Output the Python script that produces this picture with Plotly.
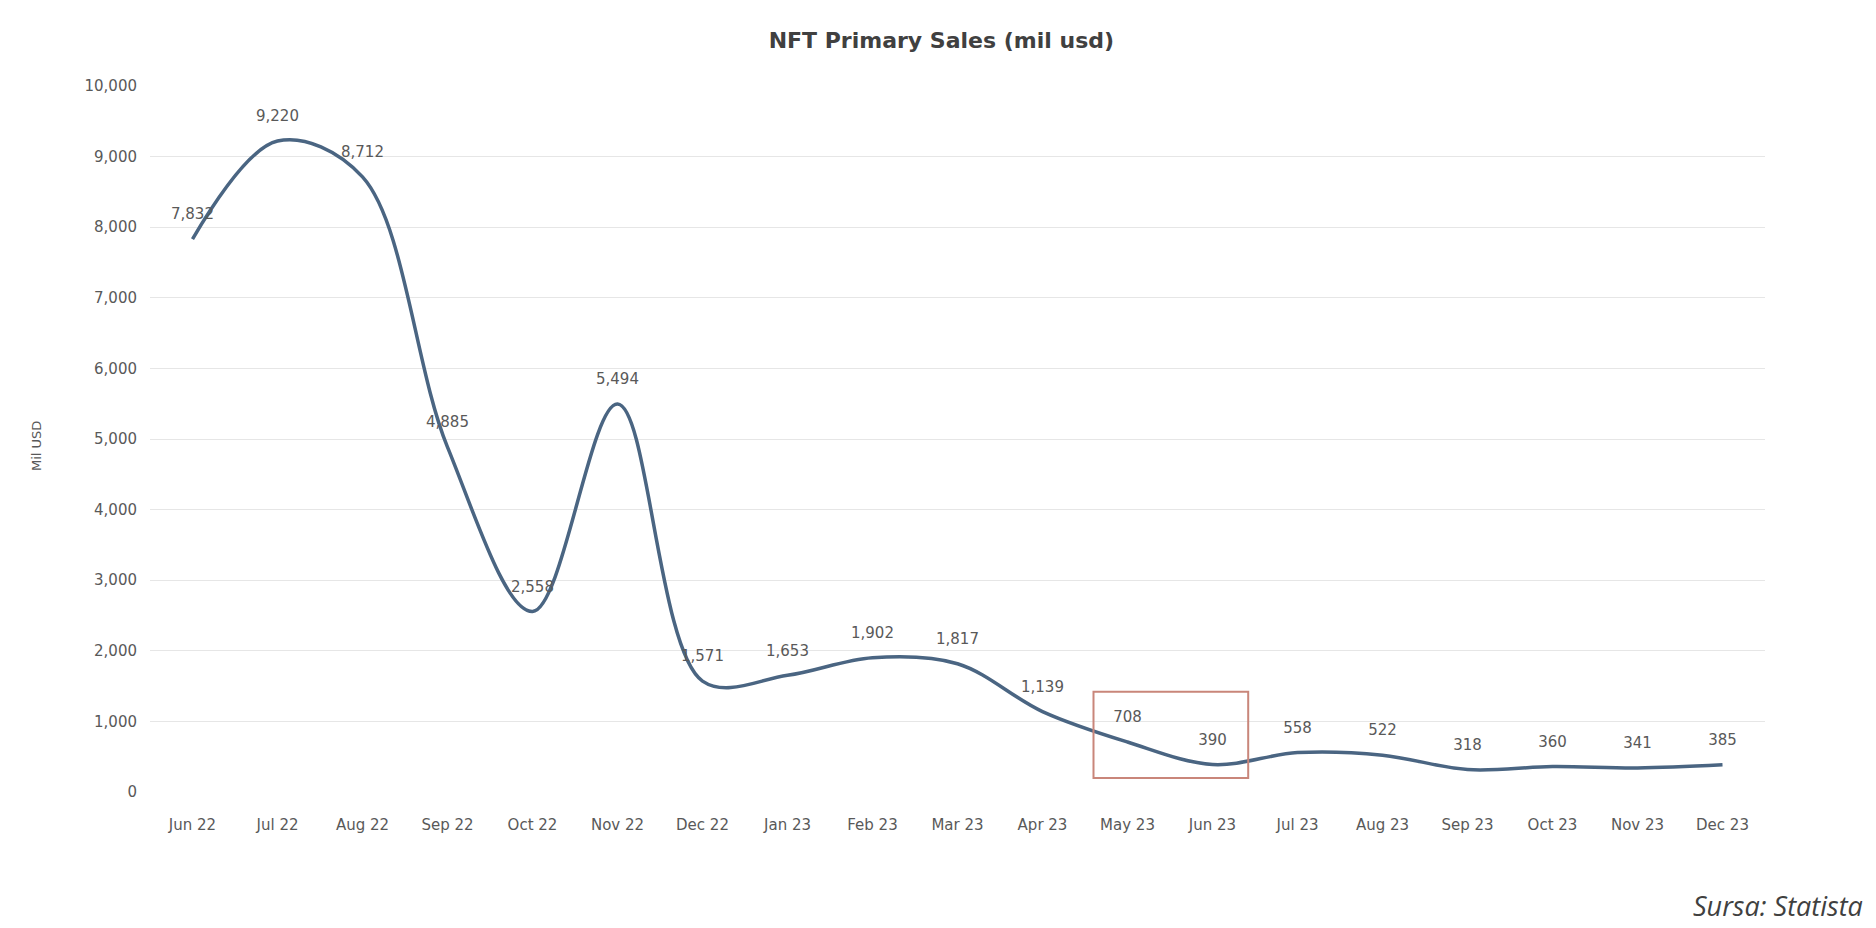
import plotly.graph_objects as go

months = ["Jun 22", "Jul 22", "Aug 22", "Sep 22", "Oct 22", "Nov 22", "Dec 22",
          "Jan 23", "Feb 23", "Mar 23", "Apr 23", "May 23", "Jun 23", "Jul 23",
          "Aug 23", "Sep 23", "Oct 23", "Nov 23", "Dec 23"]
sales = [7832, 9220, 8712, 4885, 2558, 5494, 1571, 1653, 1902, 1817, 1139,
         708, 390, 558, 522, 318, 360, 341, 385]
y_ticks = list(range(0, 10001, 1000))

FONT = "DejaVu Sans"

fig = go.Figure()
fig.add_trace(go.Scatter(
    x=months, y=sales, mode="lines+markers+text",
    line=dict(color="#4a6582", width=3.5, shape="spline", smoothing=1.0),
    marker=dict(size=24, opacity=0),
    text=[f"{v:,}" for v in sales], textposition="top center",
    textfont=dict(family=FONT, size=15, color="#595959"),
    cliponaxis=False, showlegend=False, hoverinfo="x+y",
))

# highlight box around May 23 - Jun 23
fig.add_shape(type="rect", xref="x", yref="y", x0=10.6, x1=12.42, y0=200, y1=1420,
              line=dict(color="#c9867a", width=2), fillcolor="rgba(0,0,0,0)")

fig.update_layout(
    width=1876, height=928,
    margin=dict(l=150, r=111, t=86, b=136),
    paper_bgcolor="white", plot_bgcolor="white",
    title=dict(text="<b>NFT Primary Sales (mil usd)</b>", xref="paper", x=0.49,
               xanchor="center", y=0.957, yanchor="middle",
               font=dict(family=FONT, size=22, color="#404040")),
    font=dict(family=FONT, color="#595959"),
    xaxis=dict(type="category", range=[-0.5, 18.5], showgrid=False, showline=False,
               ticks="", tickfont=dict(family=FONT, size=15, color="#595959"),
               ticklabelstandoff=22),
    yaxis=dict(range=[0, 10000], tickvals=y_ticks, tickformat=",", showgrid=True,
               gridcolor="#e6e6e6", gridwidth=1, zeroline=False, showline=False,
               tickfont=dict(family=FONT, size=15, color="#595959"), ticklabelstandoff=12),
)

fig.add_annotation(text="Mil USD", xref="paper", yref="paper", x=-0.0706, y=0.49,
                   xanchor="center", yanchor="middle", textangle=-90, showarrow=False,
                   font=dict(family=FONT, size=13, color="#595959"))

fig.add_annotation(text="<i>Sursa: Statista</i>", xref="paper", yref="paper",
                   x=1.062, y=-0.132, xanchor="right", yanchor="top", showarrow=False,
                   font=dict(family="Open Sans", size=27, color="#404040"))

fig.write_html("out.html")
